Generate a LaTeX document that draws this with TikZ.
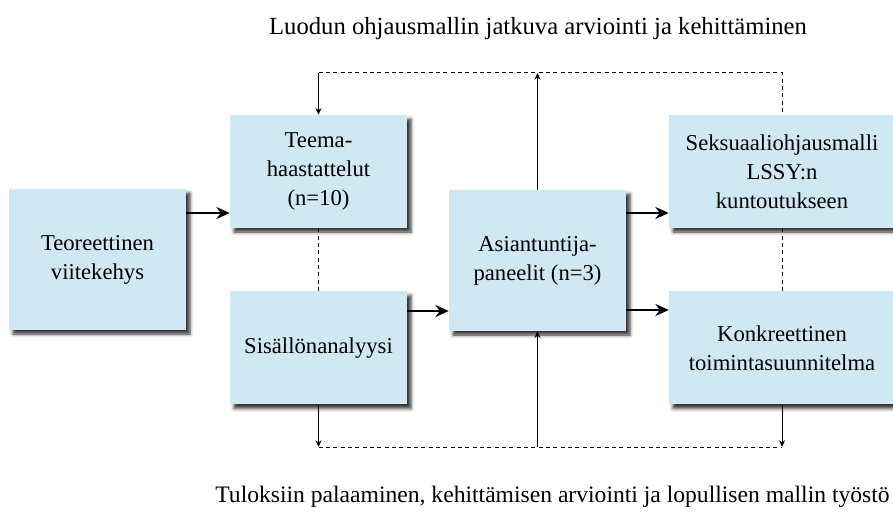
\documentclass[tikz,border=0pt]{standalone}
\usepackage{fontspec}
\setmainfont{Liberation Serif}
\usetikzlibrary{shadows.blur,arrows.meta}
\definecolor{boxblue}{RGB}{208,232,242}
\begin{document}
\begin{tikzpicture}[x=0.75pt,y=-0.75pt,
  txt/.style={font=\fontsize{17}{21.75}\selectfont, inner sep=0pt},
  heading/.style={inner sep=0pt, anchor=base},
  box/.style={txt, draw=none, fill=boxblue, align=center,
    blur shadow={shadow xshift=3pt, shadow yshift=-3pt, shadow blur radius=2.5pt, shadow opacity=80}},
  small/.style={box, minimum width=132.75pt, minimum height=84.75pt},
  big/.style={box, minimum width=132.75pt, minimum height=105.75pt},
  wide/.style={box, minimum width=169.5pt, minimum height=84.75pt},
  thick arrow/.style={line width=1.6pt, -{Stealth[length=10pt,width=9pt]}},
  thin arrow/.style={line width=0.75pt, -{Stealth[length=5pt,width=4.5pt]}},
  dashline/.style={line width=0.75pt, dash pattern=on 3pt off 2.5pt}]
\useasboundingbox (0,0) rectangle (893,513);
\node[heading, font=\fontsize{18.5}{22}\selectfont] (top) at (538,35) {Luodun ohjausmallin jatkuva arviointi ja kehittäminen};
\node[heading, font=\fontsize{17.7}{22}\selectfont] (bottom) at (552.5,502) {Tuloksiin palaaminen, kehittämisen arviointi ja lopullisen mallin työstö};

\node[big] (teo) at (97.5,259.5) {Teoreettinen\\viitekehys};
\node[small] (teema) at (318.5,171.5) {Teema-\\haastattelut\\(n=10)};
\node[small] (sis) at (318.5,348) {Sisällönanalyysi};
\node[big] (asi) at (537.5,260.5) {Asiantuntija-\\paneelit (n=3)};
\node[wide] (sek) at (782,171.5) {Seksuaaliohjausmalli\\LSSY:n\\kuntoutukseen};
\node[wide] (kon) at (782,348) {Konkreettinen\\toimintasuunnitelma};

\coordinate (tl) at (teema.center |- 0,73);
\coordinate (tr) at (sek.center |- 0,73);
\coordinate (ta) at (asi.center |- 0,73);
\coordinate (bl) at (sis.center |- 0,447);
\coordinate (br) at (kon.center |- 0,447);
\coordinate (ba) at (asi.center |- 0,447);

% main arrows
\draw[thick arrow] (teo.east |- 0,213) -- (teema.west |- 0,213);
\draw[thick arrow] (sis.east |- 0,311) -- (asi.west |- 0,311);
\draw[thick arrow] (asi.east |- 0,213) -- (sek.west |- 0,213);
\draw[thick arrow] (asi.east |- 0,310) -- (kon.west |- 0,310);

% feedback loops
\draw[dashline] (tl) -- (tr) -- (sek.north);
\draw[thin arrow] (tl) -- (teema.north);
\draw[thin arrow] (asi.north) -- (ta);
\draw[dashline] (teema.south) -- (sis.north);
\draw[dashline] (sek.south) -- (kon.north);
\draw[dashline] (bl) -- (br);
\draw[thin arrow] (sis.south) -- (bl);
\draw[thin arrow] (kon.south) -- (br);
\draw[thin arrow] (ba) -- (asi.south);
\end{tikzpicture}
\end{document}
